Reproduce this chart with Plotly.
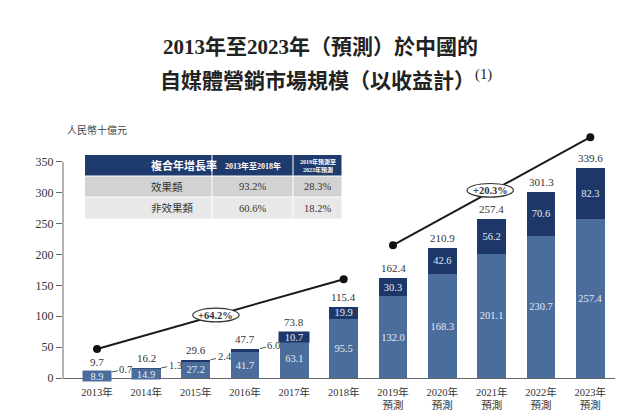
import plotly.graph_objects as go

# ---------------- data ----------------
years = ["2013年", "2014年", "2015年", "2016年", "2017年", "2018年",
         "2019年<br>預測", "2020年<br>預測", "2021年<br>預測", "2022年<br>預測", "2023年<br>預測"]
non_effect = [8.9, 14.9, 27.2, 41.7, 63.1, 95.5, 132.0, 168.3, 201.1, 230.7, 257.4]
effect = [0.7, 1.3, 2.4, 6.0, 10.7, 19.9, 30.3, 42.6, 56.2, 70.6, 82.3]
totals = [9.7, 16.2, 29.6, 47.7, 73.8, 115.4, 162.4, 210.9, 257.4, 301.3, 339.6]

trend1_x = [years[0], years[5]]
trend1_y = [47, 160]
trend2_x = [years[6], years[10]]
trend2_y = [215, 390]
cagr_labels = ["+64.2%", "+20.3%"]
cagr_pos = [(2.41, 102), (7.97, 304)]

table_header = ["複合年增長率", "2013年至2018年", "2019年預測至<br>2023年預測"]
table_rows = ["效果類", "非效果類"]
table_cagr_1 = ["93.2%", "60.6%"]
table_cagr_2 = ["28.3%", "18.2%"]

y_ticks = [0, 50, 100, 150, 200, 250, 300, 350]

# ---------------- style ----------------
C_LIGHT = "#4b6d9c"
C_DARK = "#1d3768"
C_HEAD = "#1f3a6c"
FONT = "Liberation Serif, Noto Sans CJK TC"
TXT = "#333333"
LBL = "#e3e9f2"

W, H = 640, 411
ml, mr, mt, mb = 63, 25, 131, 33
pw, ph = W - ml - mr, H - mt - mb


def px(x):
    return (x - ml) / pw


def py(y):
    return (H - mb - y) / ph


ne_text = [f"{v:.1f}" if i >= 2 else "" for i, v in enumerate(non_effect)]
ef_text = [f"{v:.1f}" if i >= 5 else "" for i, v in enumerate(effect)]

fig = go.Figure()
fig.add_trace(go.Bar(x=years, y=non_effect, marker=dict(color=C_LIGHT, line=dict(width=0)),
                     text=ne_text, textposition="inside", insidetextanchor="middle",
                     textangle=0,
                     textfont=dict(color=LBL, size=10.5, family=FONT),
                     constraintext="none", showlegend=False, hoverinfo="skip"))
fig.add_trace(go.Bar(x=years, y=effect, marker=dict(color=C_DARK, line=dict(width=0)),
                     text=ef_text, textposition="inside", insidetextanchor="middle",
                     textangle=0,
                     textfont=dict(color=LBL, size=10.5, family=FONT),
                     constraintext="none", showlegend=False, hoverinfo="skip"))
for tx, ty in [(trend1_x, trend1_y), (trend2_x, trend2_y)]:
    fig.add_trace(go.Scatter(x=tx, y=ty, mode="lines+markers",
                             line=dict(color="#1a1a1a", width=2),
                             marker=dict(color="#111111", size=8),
                             showlegend=False, hoverinfo="skip", cliponaxis=False))

annotations = []
shapes = []

# totals above bars
for i, t in enumerate(totals):
    annotations.append(dict(x=years[i], y=t, xref="x", yref="y", text=f"{t:.1f}",
                            showarrow=False, yanchor="middle", yshift=10,
                            font=dict(size=11, color=TXT, family=FONT)))

# small top-segment labels with leader lines
for i in range(4):
    annotations.append(dict(x=i + 0.3, y=totals[i], xref="x", yref="y",
                            text=f"{effect[i]:.1f}", showarrow=True, arrowhead=0,
                            arrowwidth=1, arrowcolor="#555", ax=14, ay=-3,
                            font=dict(size=10.5, color=TXT, family=FONT)))
# boxed labels for thin segments
for i in range(2):
    annotations.append(dict(x=years[i], y=non_effect[i] / 2, xref="x", yref="y",
                            text=f"{non_effect[i]:.1f}", showarrow=False,
                            bgcolor=C_LIGHT, borderpad=0, width=28, height=10, yshift=-1,
                            font=dict(size=10.5, color=LBL, family=FONT)))
annotations.append(dict(x=years[4], y=non_effect[4] + effect[4] / 2, xref="x", yref="y",
                        text=f"{effect[4]:.1f}", showarrow=False,
                        bgcolor=C_DARK, borderpad=0, width=30, height=10, yshift=-1,
                        font=dict(size=10.5, color=LBL, family=FONT)))

# CAGR ellipses
for lab, (cx, cy) in zip(cagr_labels, cagr_pos):
    shapes.append(dict(type="circle", xref="x", yref="y",
                       x0=cx - 0.47, x1=cx + 0.47, y0=cy - 11, y1=cy + 11,
                       fillcolor="white", line=dict(color="#333", width=1.2),
                       layer="above"))
    annotations.append(dict(x=cx, y=cy, xref="x", yref="y", text=f"<b>{lab}</b>",
                            showarrow=False, font=dict(size=10.5, color=TXT, family=FONT)))

# y axis line only up to 350
shapes.append(dict(type="line", xref="paper", yref="y", x0=0, x1=0, y0=0, y1=350,
                   line=dict(color="#666", width=1)))

# CAGR table drawn with shapes
col_edges = [85, 212, 293, 342]
row_edges = [155, 176, 197, 219]
row_fills = [C_HEAD, "#d2d2d2", "#e8e8e8"]
cells = [table_header,
         [table_rows[0], table_cagr_1[0], table_cagr_2[0]],
         [table_rows[1], table_cagr_1[1], table_cagr_2[1]]]
for r in range(3):
    for c in range(3):
        shapes.append(dict(type="rect", xref="paper", yref="paper",
                           x0=px(col_edges[c] + (0.5 if c else 0)), x1=px(col_edges[c + 1] - 0.5),
                           y0=py(row_edges[r + 1] - 0.5), y1=py(row_edges[r] + (0.5 if r else 0)),
                           fillcolor=row_fills[r], line=dict(width=0), layer="above"))
        cx = (col_edges[c] + col_edges[c + 1]) / 2
        cy = (row_edges[r] + row_edges[r + 1]) / 2
        if r == 0:
            size = [11, 8, 6][c]
            txt = f"<b>{cells[r][c]}</b>"
            col = "white"
        else:
            size = 10.5
            txt = cells[r][c]
            col = TXT
        annotations.append(dict(x=px(cx), y=py(cy), xref="paper", yref="paper",
                                text=txt, showarrow=False, yanchor="middle",
                                font=dict(size=size, color=col, family=FONT)))

# titles
annotations.append(dict(x=px(320), y=py(47), xref="paper", yref="paper",
                        text="<b>2013年至2023年（預測）於中國的</b>", yanchor="middle",
                        showarrow=False, font=dict(size=21, color="#222", family=FONT)))
annotations.append(dict(x=px(326), y=py(80), xref="paper", yref="paper",
                        text="<b>自媒體營銷市場規模（以收益計）</b><sup>(1)</sup>", yanchor="middle",
                        showarrow=False, font=dict(size=21, color="#222", family=FONT)))
annotations.append(dict(x=px(65), y=py(130), xref="paper", yref="paper",
                        text="人民幣十億元", xanchor="left", yanchor="middle",
                        showarrow=False, font=dict(size=10, color="#444", family=FONT)))

fig.update_layout(
    width=W, height=H,
    margin=dict(l=ml, r=mr, t=mt, b=mb, autoexpand=False),
    barmode="stack", bargap=0.42,
    plot_bgcolor="white", paper_bgcolor="white",
    font=dict(family=FONT, color=TXT),
    xaxis=dict(range=[-0.69, 10.5], showline=True, linecolor="#666", linewidth=1,
               showgrid=False, ticks="", ticklabelstandoff=4,
               tickfont=dict(size=10.5, color=TXT, family=FONT), fixedrange=True),
    yaxis=dict(range=[0, 400], tickvals=y_ticks, showline=False, showgrid=False,
               zeroline=False, ticks="outside", ticklen=6, tickcolor="#666",
               tickfont=dict(size=12, color=TXT, family=FONT), fixedrange=True),
    annotations=annotations, shapes=shapes,
)

fig.write_html("out.html", config={"displayModeBar": False},
               post_script="document.body.style.margin='0';")
